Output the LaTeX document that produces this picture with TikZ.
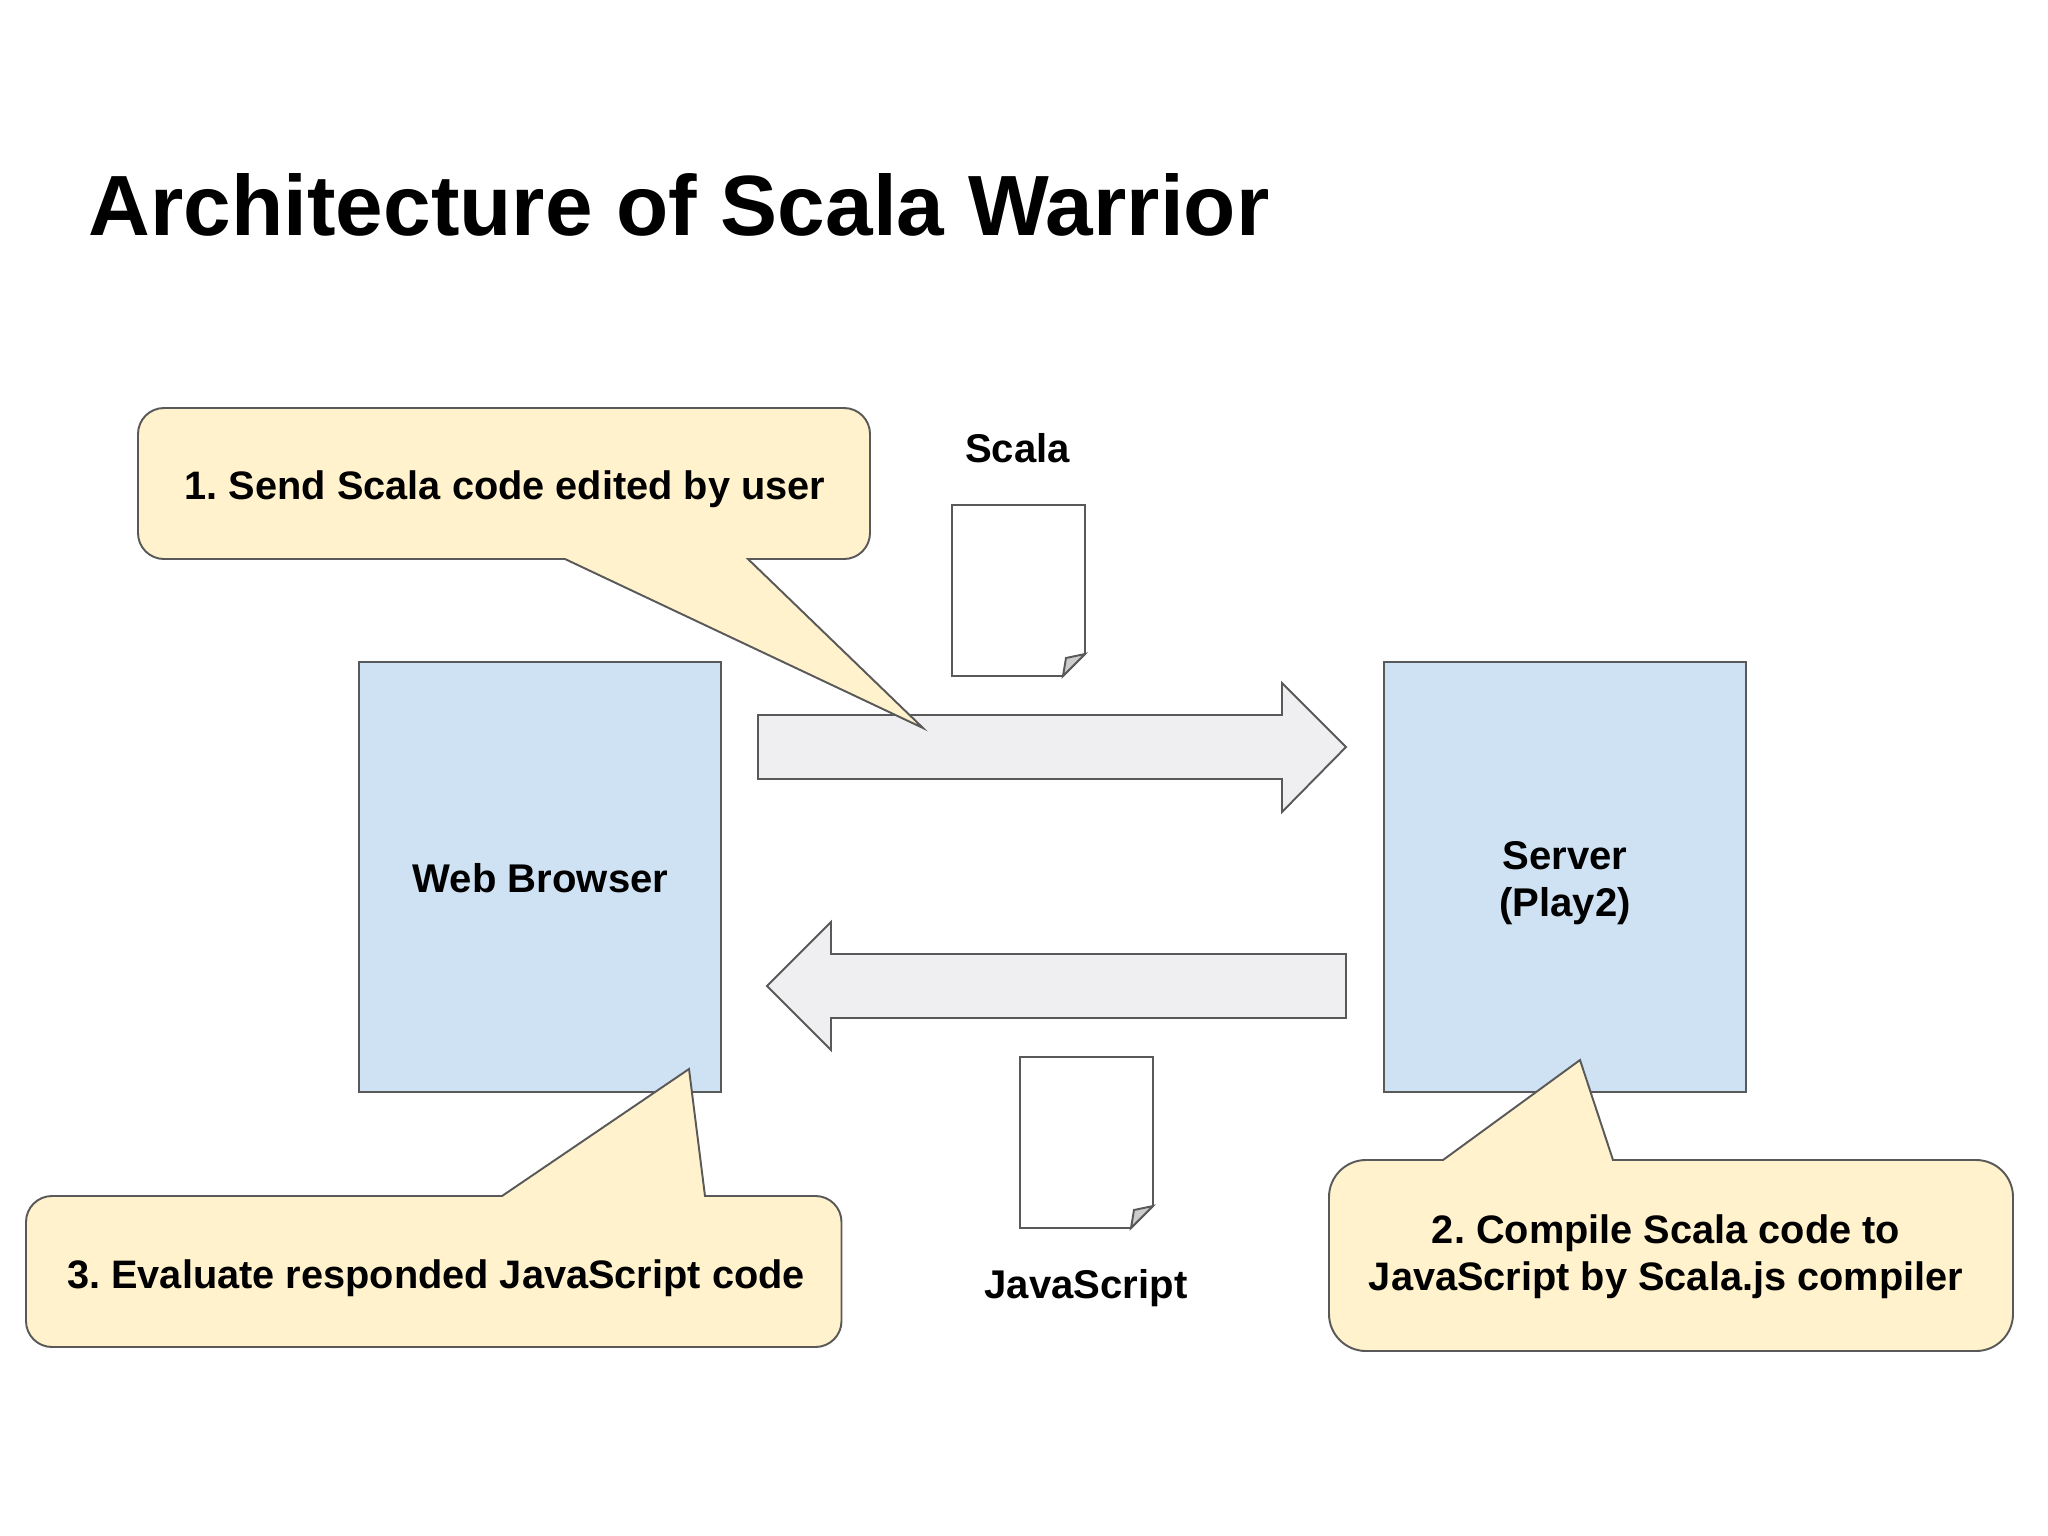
\documentclass[tikz,border=0pt]{standalone}
\usepackage{fontspec}
\setmainfont{Liberation Sans}
\definecolor{stroke}{HTML}{595959}
\definecolor{boxblue}{HTML}{CFE2F3}
\definecolor{noteyellow}{HTML}{FFF2CC}
\definecolor{arrowgrey}{HTML}{EFEEF0}
\definecolor{foldgrey}{HTML}{CCCCCC}
\tikzset{
  shapeline/.style={draw=stroke,line width=0.55pt,line join=miter},
  bluebox/.style={shapeline,fill=boxblue},
  notefill/.style={shapeline,fill=noteyellow},
  blockarrow/.style={shapeline,fill=arrowgrey},
  docpage/.style={shapeline,fill=white},
  docfold/.style={shapeline,fill=foldgrey},
  label/.style={inner sep=0pt,align=center,font=\fontsize{11.4}{13.5}\selectfont\bfseries\frenchspacing,text=black},
  notelabel/.style={label,font=\fontsize{11.3}{13.5}\selectfont\bfseries\frenchspacing},
  titletext/.style={inner sep=0pt,anchor=west,font=\fontsize{24.33}{28}\selectfont\bfseries,text=black}
}
\begin{document}
\begin{tikzpicture}[x=0.01cm,y=-0.01cm]
\useasboundingbox[fill=white] (0,0) rectangle (2048,1536);
\node[titletext] (title) at (88,204.5) {Architecture of Scala Warrior};
% boxes
\node[bluebox,inner sep=0pt,anchor=north west,minimum width=3.62cm,minimum height=4.30cm] (browser) at (358,661) {};
\node[label] (browsertext) at (540.5,878) {Web Browser};
\node[bluebox,inner sep=0pt,anchor=north west,minimum width=3.62cm,minimum height=4.30cm] (server) at (1383,661) {};
\node[label] (servertext) at (1565,883) {Server\\(Play2)};
% block arrows
\draw[blockarrow] (758,715) -- (1282,715) -- (1282,683) -- (1346,747) -- (1282,812) -- (1282,779) -- (758,779) -- cycle;
\draw[blockarrow] (1346,954) -- (831,954) -- (831,922) -- (767,986) -- (831,1050) -- (831,1018) -- (1346,1018) -- cycle;
% documents
\draw[docpage] (952,505) -- (1085,505) -- (1085,654) -- (1063,676) -- (952,676) -- cycle;
\draw[docfold] (1085,654) -- (1066,658) -- (1063,676) -- cycle;
\draw[docpage] (1020,1057) -- (1153,1057) -- (1153,1206) -- (1131,1228) -- (1020,1228) -- cycle;
\draw[docfold] (1153,1206) -- (1134,1210) -- (1131,1228) -- cycle;
\node[label] (scalalabel) at (1017.5,448) {Scala};
\node[label] (jslabel) at (1086,1288) {JavaScript};
% callouts
\draw[notefill] (565,559) -- (923,728) -- (748,559) [rounded corners=0.26cm] -- (870,559) -- (870,408) -- (138,408) -- (138,559) [sharp corners] -- cycle;
\draw[notefill] (502,1196) -- (689,1069) -- (705,1196) [rounded corners=0.26cm] -- (841.5,1196) -- (841.5,1347) -- (26,1347) -- (26,1196) [sharp corners] -- cycle;
\draw[notefill] (1443,1160) -- (1580,1060) -- (1613,1160) [rounded corners=0.37cm] -- (2013,1160) -- (2013,1351) -- (1329,1351) -- (1329,1160) [sharp corners] -- cycle;
\node[notelabel] (note1) at (505,489) {1. Send Scala code edited by user};
\node[notelabel] (note3) at (436,1278) {3. Evaluate responded JavaScript code};
\node[notelabel] (note2) at (1666,1256.5) {2. Compile Scala code to\\JavaScript by Scala.js compiler};
\end{tikzpicture}
\end{document}
